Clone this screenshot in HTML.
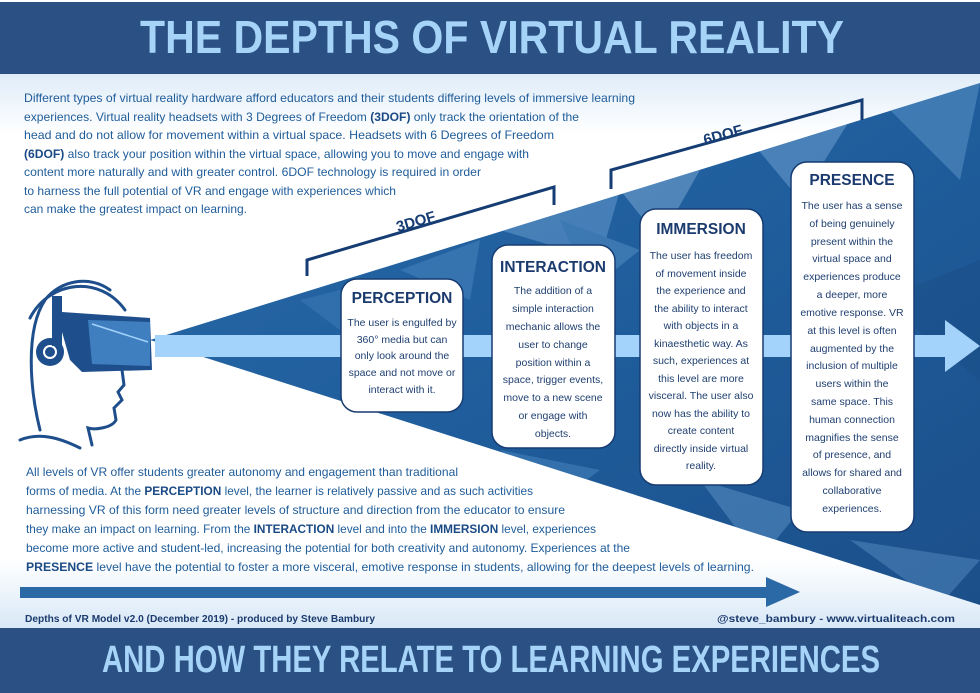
<!DOCTYPE html>
<html><head><meta charset="utf-8"><style>
html,body{margin:0;padding:0;background:#fff;}
svg{display:block;}
text{font-family:"Liberation Sans",sans-serif;}
</style></head><body>
<svg width="980" height="693" viewBox="0 0 980 693" xmlns="http://www.w3.org/2000/svg">
<defs>
<linearGradient id="bgtop" x1="0" y1="0" x2="0" y2="1">
<stop offset="0" stop-color="#dfecf8"/><stop offset="1" stop-color="#ffffff"/></linearGradient>
<linearGradient id="bgbot" x1="0" y1="0" x2="0" y2="1">
<stop offset="0" stop-color="#ffffff"/><stop offset="1" stop-color="#d8e8f7"/></linearGradient>
<linearGradient id="tri" x1="0" y1="0" x2="1" y2="1">
<stop offset="0" stop-color="#2a6aa8"/><stop offset="0.5" stop-color="#1f5d9c"/><stop offset="1" stop-color="#1b4f8a"/></linearGradient>
<clipPath id="triclip"><polygon points="150,340 980,83 980,605"/></clipPath>
</defs>
<rect x="0" y="74" width="980" height="60" fill="url(#bgtop)"/>
<rect x="0" y="560" width="980" height="68" fill="url(#bgbot)"/>
<!-- header -->
<rect x="0" y="2" width="980" height="72" fill="#2b5083"/>
<text x="140" y="53" font-size="46" font-weight="bold" fill="#a6d4f8" textLength="704" lengthAdjust="spacingAndGlyphs">THE DEPTHS OF VIRTUAL REALITY</text>
<!-- triangle -->
<polygon points="150,340 980,83 980,605" fill="url(#tri)"/>
<g clip-path="url(#triclip)" opacity="0.35">
<polygon points="500,230 620,190 600,260" fill="#8dbbe6"/>
<polygon points="620,190 700,170 660,240" fill="#a9cdee"/>
<polygon points="560,220 640,250 590,290" fill="#6fa6d8"/>
<polygon points="750,140 850,120 800,200" fill="#9cc4ea"/>
<polygon points="880,100 980,83 960,180" fill="#7fb2e0"/>
<polygon points="400,270 480,240 470,300" fill="#5d98d0"/>
<polygon points="300,300 380,280 340,330" fill="#4a88c4"/>
<polygon points="700,480 800,510 760,560" fill="#7aaedd"/>
<polygon points="500,450 600,470 560,500" fill="#5f9ad2"/>
<polygon points="850,540 980,560 940,605" fill="#6fa6d8"/>
<polygon points="880,300 980,260 980,380" fill="#1a4a80"/>
</g>
<!-- light arrow -->
<rect x="155" y="335" width="795" height="22" fill="#a3d2fb"/>
<polygon points="945,320 980,346 945,372" fill="#a3d2fb"/>
<!-- brackets -->
<polyline points="307,276 307,260 554,187 554,205" fill="none" stroke="#163d73" stroke-width="3"/>
<text x="0" y="0" font-size="15" font-weight="bold" fill="#163d73" transform="translate(398,232) rotate(-16.5)">3DOF</text>
<polyline points="611,189 611,170 862,100 862,120" fill="none" stroke="#163d73" stroke-width="3"/>
<text x="0" y="0" font-size="15" font-weight="bold" fill="#163d73" transform="translate(705,145) rotate(-15.5)">6DOF</text>
<!-- head -->
<g fill="none" stroke="#1e4f8c" stroke-width="3" stroke-linecap="round">
<path d="M40,430 C30,390 25,330 45,300 C60,280 90,275 110,290"/>
<path d="M122,370 L124,385 L118,392 L122,400 L114,408 L116,420 C112,428 95,430 88,428 L92,445"/>
<path d="M20,440 C40,432 60,438 80,448"/>
<path d="M30,318 C50,280 100,275 125,310"/>
</g>
<circle cx="50" cy="352" r="14" fill="#1e4f8c"/>
<circle cx="50" cy="352" r="7" fill="#fff"/>
<circle cx="50" cy="352" r="5" fill="#1e4f8c"/>
<path d="M58,318 L62,312 L150,318 L152,370 L82,372 L70,360 Z" fill="#1e4f8c"/>
<path d="M88,320 L150,322 L150,366 L92,364 Z" fill="#3f7fbf"/>
<path d="M92,324 L148,342" stroke="#a3d2fb" stroke-width="1.5"/>
<rect x="52" y="296" width="10" height="50" fill="#1e4f8c"/>
<!-- boxes -->
<g stroke="#173c72" stroke-width="1.5" fill="#fff">
<rect x="341" y="279" width="122" height="133" rx="16"/>
<rect x="492" y="245" width="123" height="203" rx="16"/>
<rect x="640" y="209" width="123" height="276" rx="16"/>
<rect x="791" y="162" width="123" height="370" rx="16"/>
</g>
<g font-weight="bold" fill="#1b3a6d" font-size="15.5" text-anchor="middle">
<text x="402" y="303">PERCEPTION</text>
<text x="553" y="272">INTERACTION</text>
<text x="701" y="234">IMMERSION</text>
<text x="852" y="185">PRESENCE</text>
</g>
<g fill="#1f3f6f" font-size="10.5" text-anchor="middle">
<text x="402" y="326">The user is engulfed by</text>
<text x="402" y="343">360° media but can</text>
<text x="402" y="359">only look around the</text>
<text x="402" y="376">space and not move or</text>
<text x="402" y="393">interact with it.</text>

<text x="553" y="294">The addition of a</text>
<text x="553" y="312">simple interaction</text>
<text x="553" y="330">mechanic allows the</text>
<text x="553" y="348">user to change</text>
<text x="553" y="366">position within a</text>
<text x="553" y="383">space, trigger events,</text>
<text x="553" y="401">move to a new scene</text>
<text x="553" y="419">or engage with</text>
<text x="553" y="437">objects.</text>

<text x="701" y="259">The user has freedom</text>
<text x="701" y="277">of movement inside</text>
<text x="701" y="294">the experience and</text>
<text x="701" y="312">the ability to interact</text>
<text x="701" y="329">with objects in a</text>
<text x="701" y="347">kinaesthetic way. As</text>
<text x="701" y="364">such, experiences at</text>
<text x="701" y="382">this level are more</text>
<text x="701" y="399">visceral. The user also</text>
<text x="701" y="417">now has the ability to</text>
<text x="701" y="434">create content</text>
<text x="701" y="452">directly inside virtual</text>
<text x="701" y="469">reality.</text>

<text x="852" y="209">The user has a sense</text>
<text x="852" y="227">of being genuinely</text>
<text x="852" y="245">present within the</text>
<text x="852" y="262">virtual space and</text>
<text x="852" y="280">experiences produce</text>
<text x="852" y="298">a deeper, more</text>
<text x="852" y="316">emotive response. VR</text>
<text x="852" y="334">at this level is often</text>
<text x="852" y="352">augmented by the</text>
<text x="852" y="369">inclusion of multiple</text>
<text x="852" y="387">users within the</text>
<text x="852" y="405">same space. This</text>
<text x="852" y="423">human connection</text>
<text x="852" y="441">magnifies the sense</text>
<text x="852" y="458">of presence, and</text>
<text x="852" y="476">allows for shared and</text>
<text x="852" y="494">collaborative</text>
<text x="852" y="512">experiences.</text>
</g>
<!-- top paragraph -->
<g fill="#1f5c99" font-size="12">
<text x="24" y="102" textLength="611" lengthAdjust="spacingAndGlyphs">Different types of virtual reality hardware afford educators and their students differing levels of immersive learning</text>
<text x="24" y="121" textLength="555" lengthAdjust="spacingAndGlyphs">experiences. Virtual reality headsets with 3 Degrees of Freedom <tspan font-weight="bold" fill="#1a4a85">(3DOF)</tspan> only track the orientation of the</text>
<text x="24" y="139" textLength="530" lengthAdjust="spacingAndGlyphs">head and do not allow for movement within a virtual space. Headsets with 6 Degrees of Freedom</text>
<text x="24" y="158" textLength="505" lengthAdjust="spacingAndGlyphs"><tspan font-weight="bold" fill="#1a4a85">(6DOF)</tspan> also track your position within the virtual space, allowing you to move and engage with</text>
<text x="24" y="176" textLength="457" lengthAdjust="spacingAndGlyphs">content more naturally and with greater control. 6DOF technology is required in order</text>
<text x="24" y="195" textLength="372" lengthAdjust="spacingAndGlyphs">to harness the full potential of VR and engage with experiences which</text>
<text x="24" y="213" textLength="223" lengthAdjust="spacingAndGlyphs">can make the greatest impact on learning.</text>
</g>
<!-- bottom paragraph -->
<g fill="#1f5c99" font-size="12">
<text x="26" y="476" textLength="432" lengthAdjust="spacingAndGlyphs">All levels of VR offer students greater autonomy and engagement than traditional</text>
<text x="26" y="495" textLength="507" lengthAdjust="spacingAndGlyphs">forms of media. At the <tspan font-weight="bold" fill="#1a4a85">PERCEPTION</tspan> level, the learner is relatively passive and as such activities</text>
<text x="26" y="514" textLength="539" lengthAdjust="spacingAndGlyphs">harnessing VR of this form need greater levels of structure and direction from the educator to ensure</text>
<text x="26" y="533" textLength="570" lengthAdjust="spacingAndGlyphs">they make an impact on learning. From the <tspan font-weight="bold" fill="#1a4a85">INTERACTION</tspan> level and into the <tspan font-weight="bold" fill="#1a4a85">IMMERSION</tspan> level, experiences</text>
<text x="26" y="552" textLength="604" lengthAdjust="spacingAndGlyphs">become more active and student-led, increasing the potential for both creativity and autonomy. Experiences at the</text>
<text x="26" y="571" textLength="728" lengthAdjust="spacingAndGlyphs"><tspan font-weight="bold" fill="#1a4a85">PRESENCE</tspan> level have the potential to foster a more visceral, emotive response in students, allowing for the deepest levels of learning.</text>
</g>
<!-- bottom arrow -->
<rect x="20" y="587" width="750" height="11" fill="#2a68a6"/>
<polygon points="766,577 800,592 766,607" fill="#2a68a6"/>
<!-- footer -->
<g fill="#1b3a6d" font-size="10" font-weight="bold">
<text x="25" y="622" textLength="350" lengthAdjust="spacingAndGlyphs">Depths of VR Model v2.0  (December 2019) - produced by Steve Bambury</text>
<text x="717" y="622" textLength="238" lengthAdjust="spacingAndGlyphs">@steve_bambury  - www.virtualiteach.com</text>
</g>
<rect x="0" y="628" width="980" height="65" fill="#2b5083"/>
<text x="102" y="672" font-size="38" font-weight="bold" fill="#a6d4f8" textLength="778" lengthAdjust="spacingAndGlyphs">AND HOW THEY RELATE TO LEARNING EXPERIENCES</text>
</svg>
</body></html>
